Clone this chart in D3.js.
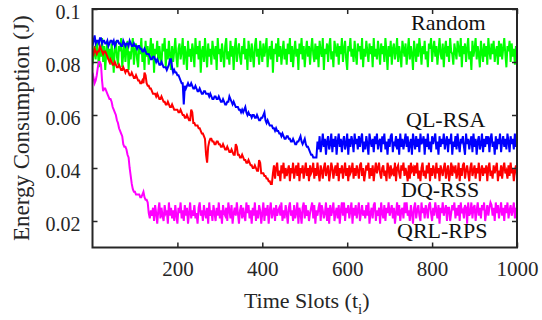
<!DOCTYPE html>
<html><head><meta charset="utf-8">
<script src="https://cdn.jsdelivr.net/npm/d3@7"></script>
<style>body{margin:0;background:#fff}svg{display:block}</style>
</head><body><svg id="c" width="542" height="320" font-family="Liberation Serif"></svg>
<script>
// Energy consumption in mJ, sampled every 2.5 time slots (0..1000)
const slotStep = 2.5;
const seriesNames = ["Random", "QL-RSA", "DQ-RSS", "QRL-RPS"];
const seriesColors = ["#00ff00", "#0000ff", "#ff0000", "#ff00ff"];
const xTicks = [200, 400, 600, 800, 1000];
const yTicks = [0.02, 0.04, 0.06, 0.08, 0.1];
const yTickLabels = ["0.02", "0.04", "0.06", "0.08", "0.1"];
const xLabel = "Time Slots (t";
const xLabelSub = "i";
const yLabel = "Energy Consumption (J)";

const randomMJ = [
79,83,86,81,88,84,78,85,82,89,80,86,77,84,88,81,85,79,87,83,
76,85,88,82,79,86,84,89,78,83,87,80,85,88,77,84,81,86,89,79,
84,87,81,78,86,83,89,80,85,77,88,82,86,79,84,89,81,87,76,85,
83,88,80,86,82,79,87,84,89,78,85,81,88,83,77,86,80,84,89,82,
78,85,87,81,84,89,79,86,83,77,88,82,85,80,87,84,78,89,83,86,
81,88,76,84,86,80,89,83,78,87,82,85,79,88,84,81,86,77,89,83,
85,80,87,83,78,86,89,81,84,79,88,82,86,77,85,89,80,84,87,82,
79,86,83,89,81,85,77,88,84,80,87,83,78,86,89,82,85,79,88,84,
80,87,82,85,89,78,84,86,81,88,76,85,83,87,80,89,82,86,79,84,
88,81,85,79,87,83,89,80,86,78,84,88,82,85,77,87,83,89,81,86,
78,84,88,82,86,79,85,89,83,80,87,81,86,78,88,84,82,89,77,85,
83,87,80,86,89,81,84,78,88,85,82,87,79,86,83,89,80,85,88,81,
77,86,84,89,82,85,80,88,83,79,87,84,86,81,89,78,85,82,88,84,
80,87,83,86,78,89,82,85,81,88,84,79,87,83,86,80,89,84,77,86,
82,88,79,85,87,81,84,89,80,86,83,78,88,85,82,87,79,84,89,81,
86,83,77,88,84,80,87,82,89,85,79,86,83,88,81,84,78,87,85,89,
80,85,88,82,86,79,84,89,83,81,87,78,85,88,82,86,80,89,84,83,
79,87,84,81,88,85,82,89,78,86,83,87,80,85,89,81,84,77,88,82,
85,89,81,86,83,78,88,84,80,87,82,86,79,89,84,81,87,83,88,80,
84,86,79,88,82,87,81,85,89,83,78,86,84,88,80,87,82,85,79,86,
83];

const qlrsaMJ = [
86,88,90,87,88,88,87,89,89,87,88,88,87,87,88,86,87,88,88,87,
88,86,87,88,88,87,87,86,86,88,87,86,87,87,86,88,87,86,86,87,
86,86,85,86,86,85,85,84,84,85,84,83,83,83,82,81,81,82,82,81,
80,81,80,79,79,80,79,78,78,78,77,78,79,81,81,78,76,77,76,76,
75,75,74,73,72,72,64,71,70,71,72,71,71,72,71,70,70,71,70,69,
69,70,69,68,68,69,69,68,68,68,67,68,67,66,66,67,67,66,66,67,
66,65,65,66,65,64,64,65,65,67,66,65,64,65,64,63,63,63,62,62,
61,62,61,62,63,61,60,61,60,60,59,60,60,59,59,60,59,58,58,59,
59,60,61,58,57,58,57,56,56,56,55,55,54,55,54,54,53,53,52,53,
52,51,51,52,52,51,51,50,50,51,50,49,49,50,50,51,52,50,49,50,
51,49,48,48,47,46,45,45,44,44,44,44,
50,47,52,46,49,53,48,51,45,50,52,47,49,53,46,51,48,52,45,50,
53,48,51,46,50,52,47,49,53,45,51,48,52,50,46,53,49,51,47,52,
48,51,53,46,50,47,52,49,45,53,50,48,51,46,52,49,53,47,50,51,
46,52,49,53,47,50,45,51,48,52,53,46,50,49,52,47,51,45,53,48,
51,47,50,53,48,52,46,49,51,45,53,50,47,52,48,51,46,53,49,50,
52,45,51,48,53,47,50,46,52,49,51,53,47,50,45,52,48,51,49,53,
47,50,52,46,51,49,53,45,50,48,52,47,53,49,46,51,50,52,48,45,
53,49,51,47,50,52,46,53,48,51,45,50,52,47,49,53,46,51,48,52,
49,52,46,51,53,48,50,45,52,47,51,49,53,46,50,52,48,51,47,53,
50,46,52,49,51,47,53,48,50];

const dqrssMJ = [
84,83,85,84,83,84,84,86,85,84,83,84,84,83,82,81,80,81,80,79,
79,80,79,78,78,79,78,77,77,78,77,76,77,77,76,75,75,76,75,74,
74,75,74,73,73,72,72,73,72,76,75,72,71,71,70,70,69,68,68,68,
67,68,67,66,66,67,66,65,65,64,64,65,64,63,63,64,63,62,62,62,
62,61,61,62,61,60,60,59,59,60,59,58,58,62,61,57,57,56,56,56,
55,55,54,53,53,52,51,45,42,48,50,51,51,50,50,49,49,50,50,49,
49,48,48,49,48,47,47,48,47,46,46,47,46,45,45,49,48,45,45,44,
44,45,44,43,43,42,42,43,42,41,41,40,40,41,40,39,39,43,42,38,
38,38,37,37,36,36,35,35,34,34,
38,41,36,40,42,37,39,35,41,38,42,36,40,37,39,41,35,40,38,42,
36,39,41,37,42,35,40,38,41,36,39,42,37,40,35,41,38,39,42,36,
40,37,42,38,35,41,39,36,40,42,37,39,41,35,38,42,40,36,39,41,
37,42,35,40,38,41,36,39,42,37,40,35,41,38,39,42,36,40,37,41,
39,36,41,42,37,40,35,38,41,39,42,36,40,37,41,35,39,42,38,40,
42,38,36,40,41,37,39,35,42,40,36,41,38,39,37,42,35,40,41,38,
36,41,39,42,37,40,38,35,41,36,42,39,40,37,41,38,42,36,39,35,
40,42,37,39,36,41,38,42,35,40,37,41,39,36,42,38,40,35,41,39,
37,40,42,36,39,41,35,38,42,37,40,39,41,36,38,42,35,40,37,41,
42,36,39,41,38,35,40,42,37,39,41,36,40,38,42,35,39,41,37,40,
38,41,35,40,42,37,39,36,41,38,40,42,35,39,37,41,36,40,42,38,
39,36,41,37,42,38,40,35,39,41,37];

const qrlrpsMJ = [
76,74,72,73,75,78,80,80,79,73,69,70,70,69,68,67,66,66,65,63,
62,61,60,58,57,55,54,53,52,49,48,48,47,45,44,40,37,34,32,31,
31,30,30,30,30,29,29,30,31,29,28,28,27,23,21,24,
22,25,20,26,23,19,24,27,21,25,22,20,26,23,24,19,27,22,25,21,
24,20,26,22,19,25,23,27,21,24,20,26,22,25,19,23,27,21,24,22,
26,21,23,19,25,27,22,24,20,26,23,21,25,19,27,22,24,20,26,23,
20,25,22,27,21,24,19,26,23,22,25,20,27,24,21,26,19,23,25,22,
27,23,19,24,26,21,25,22,20,27,23,26,21,24,19,25,22,27,20,24,
21,26,24,19,23,27,20,25,22,26,19,24,27,21,23,25,20,26,22,24,
25,22,27,20,24,21,26,23,19,25,27,22,24,20,26,21,23,27,19,25,
23,19,25,27,21,26,22,24,20,23,25,27,21,26,19,24,22,25,27,20,
26,24,21,23,27,20,25,19,26,22,24,27,20,23,25,21,26,19,24,27,
22,27,20,25,23,26,21,24,27,19,25,22,26,21,24,27,20,23,26,22,
24,21,26,22,27,19,23,25,21,26,27,20,24,22,25,19,27,23,21,26,
20,25,23,27,22,24,26,21,25,19,23,27,22,26,20,24,25,21,27,23,
27,22,24,20,26,23,19,25,27,21,24,26,22,20,27,23,25,21,26,24,
21,26,27,23,20,25,22,27,24,21,26,19,25,23,27,22,24,26,20,25,
25,20,23,26,24,27,21,25,22,26,20,27,23,24,21,26,25,19,27,22,
23,27,21,25,26,20,24,27,22,25,21,26,24,27,20,23,26,22,25,27,
26,22,25,20,27,23,26,21,24,27,22,25,20,26,23,27,21,24,26,22,
24,27,21,25,23];

const seriesData = [randomMJ, qlrsaMJ, dqrssMJ, qrlrpsMJ];
// draw order: Random (bottom), QRL-RPS, DQ-RSS, QL-RSA (top)
const drawOrder = [0, 3, 2, 1];

const m = {l: 92.5, r: 517, t: 9, b: 247.5};
const ink = "#262626";
const serif = "Liberation Serif";

const svg = d3.select("#c");
const x = d3.scaleLinear().domain([0, 1000]).range([m.l, m.r]);
const y = d3.scaleLinear().domain([0.01, 0.1]).range([m.b, m.t]);

svg.append("defs").append("clipPath").attr("id", "plotclip")
  .append("rect").attr("x", m.l).attr("y", m.t).attr("width", m.r - m.l).attr("height", m.b - m.t);

const line = d3.line().x((d, i) => x(i * slotStep)).y(d => y(d / 1000));
const g = svg.append("g").attr("clip-path", "url(#plotclip)");
drawOrder.forEach(k => {
  g.append("path").datum(seriesData[k])
    .attr("fill", "none").attr("stroke", seriesColors[k])
    .attr("stroke-width", 2).attr("stroke-linejoin", "miter")
    .attr("d", line);
});

const axB = svg.append("g").attr("transform", `translate(0,${m.b})`)
  .call(d3.axisBottom(x).tickValues(xTicks).tickSizeInner(-5).tickSizeOuter(0).tickPadding(14).tickFormat(d3.format("d")));
const axT = svg.append("g").attr("transform", `translate(0,${m.t})`)
  .call(d3.axisTop(x).tickValues(xTicks).tickSizeInner(-5).tickSizeOuter(0).tickFormat(""));
const axL = svg.append("g").attr("transform", `translate(${m.l},0)`)
  .call(d3.axisLeft(y).tickValues(yTicks).tickSizeInner(-5).tickSizeOuter(0).tickPadding(12)
    .tickFormat((d, i) => yTickLabels[i]));
const axR = svg.append("g").attr("transform", `translate(${m.r},0)`)
  .call(d3.axisRight(y).tickValues(yTicks).tickSizeInner(-5).tickSizeOuter(0).tickFormat(""));
[axB, axT, axL, axR].forEach(a => {
  a.attr("font-family", serif).attr("font-size", 21);
  a.select(".domain").remove();
  a.selectAll("line").attr("stroke", ink).attr("stroke-width", 1.5);
  a.selectAll("text").attr("fill", ink).attr("font-family", serif).attr("font-size", 21);
});
axL.selectAll("text").attr("font-size", 20).attr("dy", "0.45em");

svg.append("rect").attr("x", m.l).attr("y", m.t).attr("width", m.r - m.l).attr("height", m.b - m.t)
  .attr("fill", "none").attr("stroke", ink).attr("stroke-width", 2);

const labelPos = [[411, 30], [406, 127], [401, 197], [397, 238]];
seriesNames.forEach((n, i) => {
  svg.append("text").attr("x", labelPos[i][0]).attr("y", labelPos[i][1])
    .attr("fill", "#111").attr("font-family", serif).attr("font-size", 22).text(n);
});

const xt = svg.append("text").attr("x", (m.l + m.r) / 2 + 2).attr("y", 308)
  .attr("text-anchor", "middle").attr("fill", ink).attr("font-family", serif).attr("font-size", 22);
xt.append("tspan").text(xLabel);
xt.append("tspan").attr("dy", 6).attr("font-size", 15).text(xLabelSub);
xt.append("tspan").attr("dy", -6).text(")");

svg.append("text").attr("transform", `translate(29,${(m.t + m.b) / 2}) rotate(-90)`)
  .attr("text-anchor", "middle").attr("fill", ink).attr("font-family", serif).attr("font-size", 23).text(yLabel);
</script>
</body></html>
